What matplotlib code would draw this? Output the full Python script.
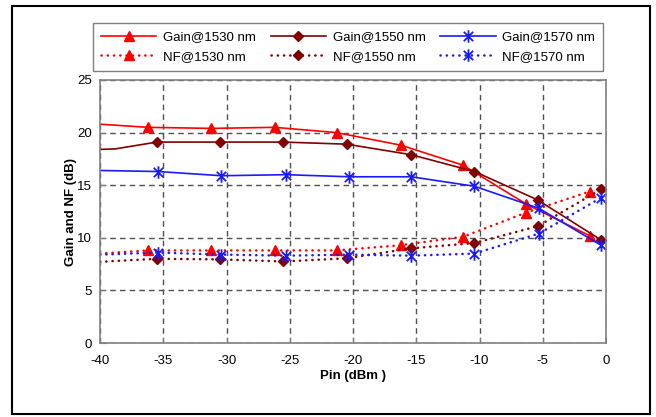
import numpy as np
import matplotlib.pyplot as plt
from matplotlib.path import Path
from matplotlib.patches import Rectangle

plt.rcParams['font.family'] = ['Liberation Sans', 'DejaVu Sans']
plt.rcParams['axes.unicode_minus'] = False

# Input power (dBm) for each wavelength; first point(s) carry no marker
x_1530 = [-40, -36.2, -31.2, -26.2, -21.3, -16.2, -11.3, -6.3, -1.3]
x_1550 = [-40, -38.8, -35.5, -30.5, -25.5, -20.5, -15.4, -10.4, -5.4, -0.4]
x_1570 = [-40, -35.4, -30.4, -25.3, -20.3, -15.4, -10.4, -5.3, -0.4]

gain_1530 = [20.8, 20.5, 20.4, 20.5, 20.0, 18.8, 16.9, 13.2, 10.2]
nf_1530 = [8.5, 8.8, 8.8, 8.8, 8.8, 9.3, 10.1, 12.4, 14.4]

gain_1550 = [18.4, 18.45, 19.1, 19.1, 19.1, 18.9, 17.9, 16.3, 13.6, 9.8]
nf_1550 = [7.7, 7.8, 8.0, 7.95, 7.75, 8.05, 9.0, 9.5, 11.1, 14.6]

gain_1570 = [16.4, 16.3, 15.9, 16.0, 15.8, 15.8, 14.9, 12.8, 9.3]
nf_1570 = [8.4, 8.6, 8.4, 8.3, 8.4, 8.3, 8.5, 10.4, 13.8]

x_ticks = [-40, -35, -30, -25, -20, -15, -10, -5, 0]
y_ticks = [0, 5, 10, 15, 20, 25]

# Excel-like asterisk marker (x with a vertical bar)
star = Path([(0, -1), (0, 1), (-0.75, -0.75), (0.75, 0.75), (-0.75, 0.75), (0.75, -0.75)],
            [Path.MOVETO, Path.LINETO, Path.MOVETO, Path.LINETO, Path.MOVETO, Path.LINETO])

red = '#FF0000'
brown = '#800000'
blue = '#1A1AFF'
dots = (0, (0.1, 2.4))

fig = plt.figure(figsize=(6.56, 4.17), dpi=100)
ax = fig.add_axes([100/656, 1 - 343/417, 506/656, 263/417])

ax.plot(x_1530, gain_1530, '-', color=red, lw=1.2, marker='^', ms=7,
        markevery=list(range(1, len(x_1530))), label='Gain@1530 nm')
ax.plot(x_1530, nf_1530, linestyle=dots, color=red, lw=1.8, marker='^', ms=7,
        dash_capstyle='round', markevery=list(range(1, len(x_1530))), label='NF@1530 nm')
ax.plot(x_1550, gain_1550, '-', color=brown, lw=1.2, marker='D', ms=5,
        markevery=list(range(2, len(x_1550))), label='Gain@1550 nm')
ax.plot(x_1550, nf_1550, linestyle=dots, color=brown, lw=1.8, marker='D', ms=5,
        dash_capstyle='round', markevery=list(range(2, len(x_1550))), label='NF@1550 nm')
ax.plot(x_1570, gain_1570, '-', color=blue, lw=1.2, marker=star, ms=9, mew=1.3,
        markevery=list(range(1, len(x_1570))), label='Gain@1570 nm')
ax.plot(x_1570, nf_1570, linestyle=dots, color=blue, lw=1.8, marker=star, ms=9, mew=1.3,
        dash_capstyle='round', markevery=list(range(1, len(x_1570))), label='NF@1570 nm')

ax.set_xlim(-40, 0)
ax.set_ylim(0, 25)
ax.set_xticks(x_ticks)
ax.set_yticks(y_ticks)
ax.tick_params(direction='in', length=4, color='#808080', labelsize=9.5, pad=6)
ax.tick_params(axis='x', pad=9)
ax.grid(True, color='#505050', lw=1, linestyle=(0, (4, 3)))
ax.set_axisbelow(True)
for s in ax.spines.values():
    s.set_color('#808080')
    s.set_linewidth(1.2)

ax.set_xlabel('Pin (dBm )', fontsize=9.5, fontweight='bold', labelpad=2)
ax.set_ylabel('Gain and NF (dB)', fontsize=9.5, fontweight='bold', labelpad=0)

leg = fig.legend(loc='upper left', ncol=3, mode='expand',
                 bbox_to_anchor=(93/656, 1 - 23/417, 510/656, 0),
                 borderaxespad=0,
                 fontsize=9.5, fancybox=False, edgecolor='#606060',
                 handlelength=4.2, borderpad=0.6, labelspacing=0.55,
                 handletextpad=0.5)
leg.get_frame().set_linewidth(1.0)

# outer chart border
fig.patches.append(Rectangle((12/656, 1 - 414/417), 638/656, 408/417,
                             transform=fig.transFigure, fill=False,
                             edgecolor='black', lw=1.5))

fig.savefig('out.png', dpi=100)
